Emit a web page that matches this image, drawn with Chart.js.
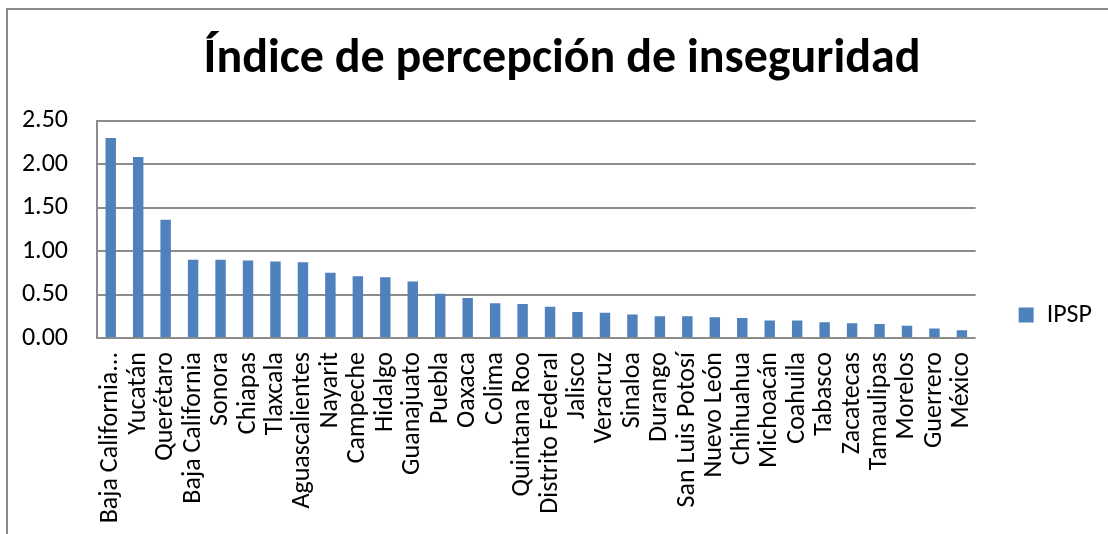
<!DOCTYPE html>
<html>
<head>
<meta charset="utf-8">
<script src="https://cdn.jsdelivr.net/npm/chart.js@4.4.1/dist/chart.umd.min.js"></script>
<style>
  html, body { margin: 0; padding: 0; background: #fff; overflow: hidden; }
  #wrap { position: relative; width: 1108px; height: 534px; }
  #frame { position: absolute; left: 6px; top: 8px; width: 1200px; height: 600px;
           border-left: 2px solid #8a8a8a; border-top: 2px solid #8a8a8a; }
  canvas { position: absolute; left: 0; top: 0; }
</style>
</head>
<body>
<div id="wrap">
  <div id="frame"></div>
  <canvas id="barChart" width="1108" height="534"></canvas>
</div>
<script>
var estados = ["Baja California...", "Yucatán", "Querétaro", "Baja California", "Sonora", "Chiapas",
  "Tlaxcala", "Aguascalientes", "Nayarit", "Campeche", "Hidalgo", "Guanajuato", "Puebla", "Oaxaca",
  "Colima", "Quintana Roo", "Distrito Federal", "Jalisco", "Veracruz", "Sinaloa", "Durango",
  "San Luis Potosí", "Nuevo León", "Chihuahua", "Michoacán", "Coahuila", "Tabasco", "Zacatecas",
  "Tamaulipas", "Morelos", "Guerrero", "México"];
var ipsp = [2.30, 2.08, 1.36, 0.90, 0.90, 0.89, 0.88, 0.87, 0.75, 0.71, 0.70, 0.65, 0.51, 0.46,
  0.40, 0.39, 0.36, 0.30, 0.29, 0.27, 0.25, 0.25, 0.24, 0.23, 0.20, 0.20, 0.18, 0.17,
  0.16, 0.14, 0.11, 0.09];
var yTicks = [0, 0.5, 1, 1.5, 2, 2.5];

var fuente = "Carlito, Calibri, Lato, sans-serif";
var gris = "#8c8c8c";

var ctx = document.getElementById("barChart");
var myChart = new Chart(ctx, {
  type: 'bar',
  data: {
    labels: estados,
    datasets: [{
      label: 'IPSP',
      data: ipsp,
      backgroundColor: '#4f81bd',
      borderWidth: 0,
      barPercentage: 0.38,
      categoryPercentage: 1
    }]
  },
  options: {
    responsive: false,
    animation: false,
    layout: { padding: { left: 22, right: 6, top: 0, bottom: 0 } },
    plugins: {
      title: {
        display: true,
        text: 'Índice de percepción de inseguridad',
        color: '#000',
        font: { family: fuente, size: 48, weight: 'bold' },
        padding: { top: 31, bottom: 32 }
      },
      legend: {
        position: 'right',
        align: 'start',
        fullSize: false,
        title: { display: true, text: '', padding: { top: 0, bottom: 124 } },
        labels: {
          color: '#000',
          font: { family: fuente, size: 26 },
          boxWidth: 15,
          boxHeight: 15,
          padding: 43
        }
      },
      tooltip: { enabled: false }
    },
    scales: {
      x: {
        grid: { display: false, drawTicks: false },
        border: { display: false },
        afterFit: function (axis) { axis.height = 196; },
        ticks: {
          color: '#000',
          font: { family: fuente, size: 26 },
          autoSkip: false,
          minRotation: 90,
          maxRotation: 90,
          padding: 14
        }
      },
      y: {
        min: 0,
        max: 2.5,
        afterBuildTicks: function (axis) {
          axis.ticks = yTicks.map(function (v) { return { value: v }; });
        },
        afterFit: function (axis) { axis.width = 75; },
        grid: { color: gris, lineWidth: 2, drawTicks: false },
        border: { display: true, color: gris, width: 2 },
        ticks: {
          color: '#000',
          font: { family: fuente, size: 26 },
          padding: 29,
          callback: function (v) { return Number(v).toFixed(2); }
        }
      }
    }
  }
});
</script>
</body>
</html>
